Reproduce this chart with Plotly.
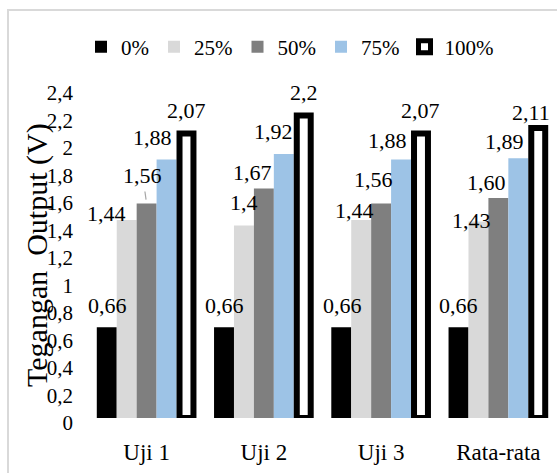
import plotly.graph_objects as go

# Output voltage per test run and duty level
categories = ["Uji 1", "Uji 2", "Uji 3", "Rata-rata"]
series_names = ["0%", "25%", "50%", "75%", "100%"]
v_0 = [0.66, 0.66, 0.66, 0.66]
v_25 = [1.44, 1.40, 1.44, 1.43]
v_50 = [1.56, 1.67, 1.56, 1.60]
v_75 = [1.88, 1.92, 1.88, 1.89]
v_100 = [2.07, 2.20, 2.07, 2.11]
label_text = [
    ["0,66", "0,66", "0,66", "0,66"],
    ["1,44", "1,4", "1,44", "1,43"],
    ["1,56", "1,67", "1,56", "1,60"],
    ["1,88", "1,92", "1,88", "1,89"],
    ["2,07", "2,2", "2,07", "2,11"],
]
y_ticks = [0, 0.2, 0.4, 0.6, 0.8, 1, 1.2, 1.4, 1.6, 1.8, 2, 2.2, 2.4]

values = [v_0, v_25, v_50, v_75, v_100]

# styling
FONT = "Liberation Serif, Times New Roman, serif"
fills = ["#000000", "#d9d9d9", "#7f7f7f", "#9dc3e6", "#ffffff"]
outline_w = [0, 0, 0, 0, 6]
W, H = 557, 473
ML, MR, MT, MB = 88, 0, 88, 55
plot_w = W - ML - MR
plot_h = H - MT - MB
cat_px = plot_w / len(categories)
bar_w = 0.17

# per-label pixel nudges (dx, gap above bar top), series-major
label_nudges = [
    [(1, 15), (0, 15), (1, 15), (0, 15)],
    [(-20, 0), (0, 16), (-7, 3), (-7, -6)],
    [(-4, 21), (-11, 9), (-8, 17), (-12, 9)],
    [(-14, 15), (-10, 16), (-14, 12), (-14, 10)],
    [(0, 16), (0, 16), (0, 16), (-7, 8)],
]

fig = go.Figure()
for s, name in enumerate(series_names):
    left = -0.425 + bar_w * s
    lw = outline_w[s]
    pad = lw / cat_px
    fig.add_trace(go.Bar(
        x=categories, y=values[s], name=name,
        width=bar_w - pad, offset=left + pad / 2,
        marker=dict(color=fills[s],
                    line=dict(color="#000000", width=lw)),
    ))

annotations = []
for s in range(len(series_names)):
    for g in range(len(categories)):
        dx, gap = label_nudges[s][g]
        xc = g - 0.34 + bar_w * s
        ann = dict(x=xc, y=values[s][g], xref="x", yref="y",
                   text=label_text[s][g], showarrow=False,
                   xanchor="center", yanchor="middle",
                   xshift=dx, yshift=gap + 7,
                   font=dict(family=FONT, size=22, color="#000000"))
        if s == 2 and g == 0:
            # leader line from the label down to its bar
            ann.update(showarrow=True, arrowhead=0, arrowwidth=1.2,
                       arrowcolor="#a6a6a6", ax=-4, ay=-(gap + 7),
                       xshift=0, yshift=0, standoff=4, startstandoff=2)
        annotations.append(ann)

# rotated axis title
annotations.append(dict(
    x=(37 - ML) / plot_w, y=0.494, xref="paper", yref="paper",
    text="Tegangan\u00a0 Output (V)", textangle=-90, showarrow=False,
    xanchor="center", yanchor="middle",
    font=dict(family=FONT, size=30, color="#000000")))

fig.update_layout(
    width=W, height=H,
    margin=dict(l=ML, r=MR, t=MT, b=MB, autoexpand=False),
    paper_bgcolor="#ffffff", plot_bgcolor="#ffffff",
    barmode="overlay",
    separators=",.",
    font=dict(family=FONT, size=21, color="#000000"),
    showlegend=True,
    legend=dict(orientation="h", x=(290 - ML) / plot_w, xanchor="center",
                y=(plot_h + MT - 47) / plot_h, yanchor="middle",
                font=dict(family=FONT, size=21, color="#000000"),
                bgcolor="rgba(0,0,0,0)", itemwidth=30,
                traceorder="normal"),
    xaxis=dict(showgrid=False, showline=False, zeroline=False,
               ticks="", ticklabelstandoff=18,
               range=[-0.5, 3.5],
               tickfont=dict(family=FONT, size=23, color="#000000")),
    yaxis=dict(range=[0, 2.4], tickvals=y_ticks, showgrid=False,
               showline=False, zeroline=False, ticks="",
               ticklabelstandoff=14, ticklabelshift=5,
               tickfont=dict(family=FONT, size=21, color="#000000")),
    annotations=annotations,
    shapes=[dict(type="rect", xref="paper", yref="paper",
                 x0=(8 - ML) / plot_w, x1=1.2,
                 y0=-0.5, y1=(plot_h + MT - 10) / plot_h,
                 line=dict(color="#d9d9d9", width=2), layer="below")],
)

fig.write_html("out.html")
